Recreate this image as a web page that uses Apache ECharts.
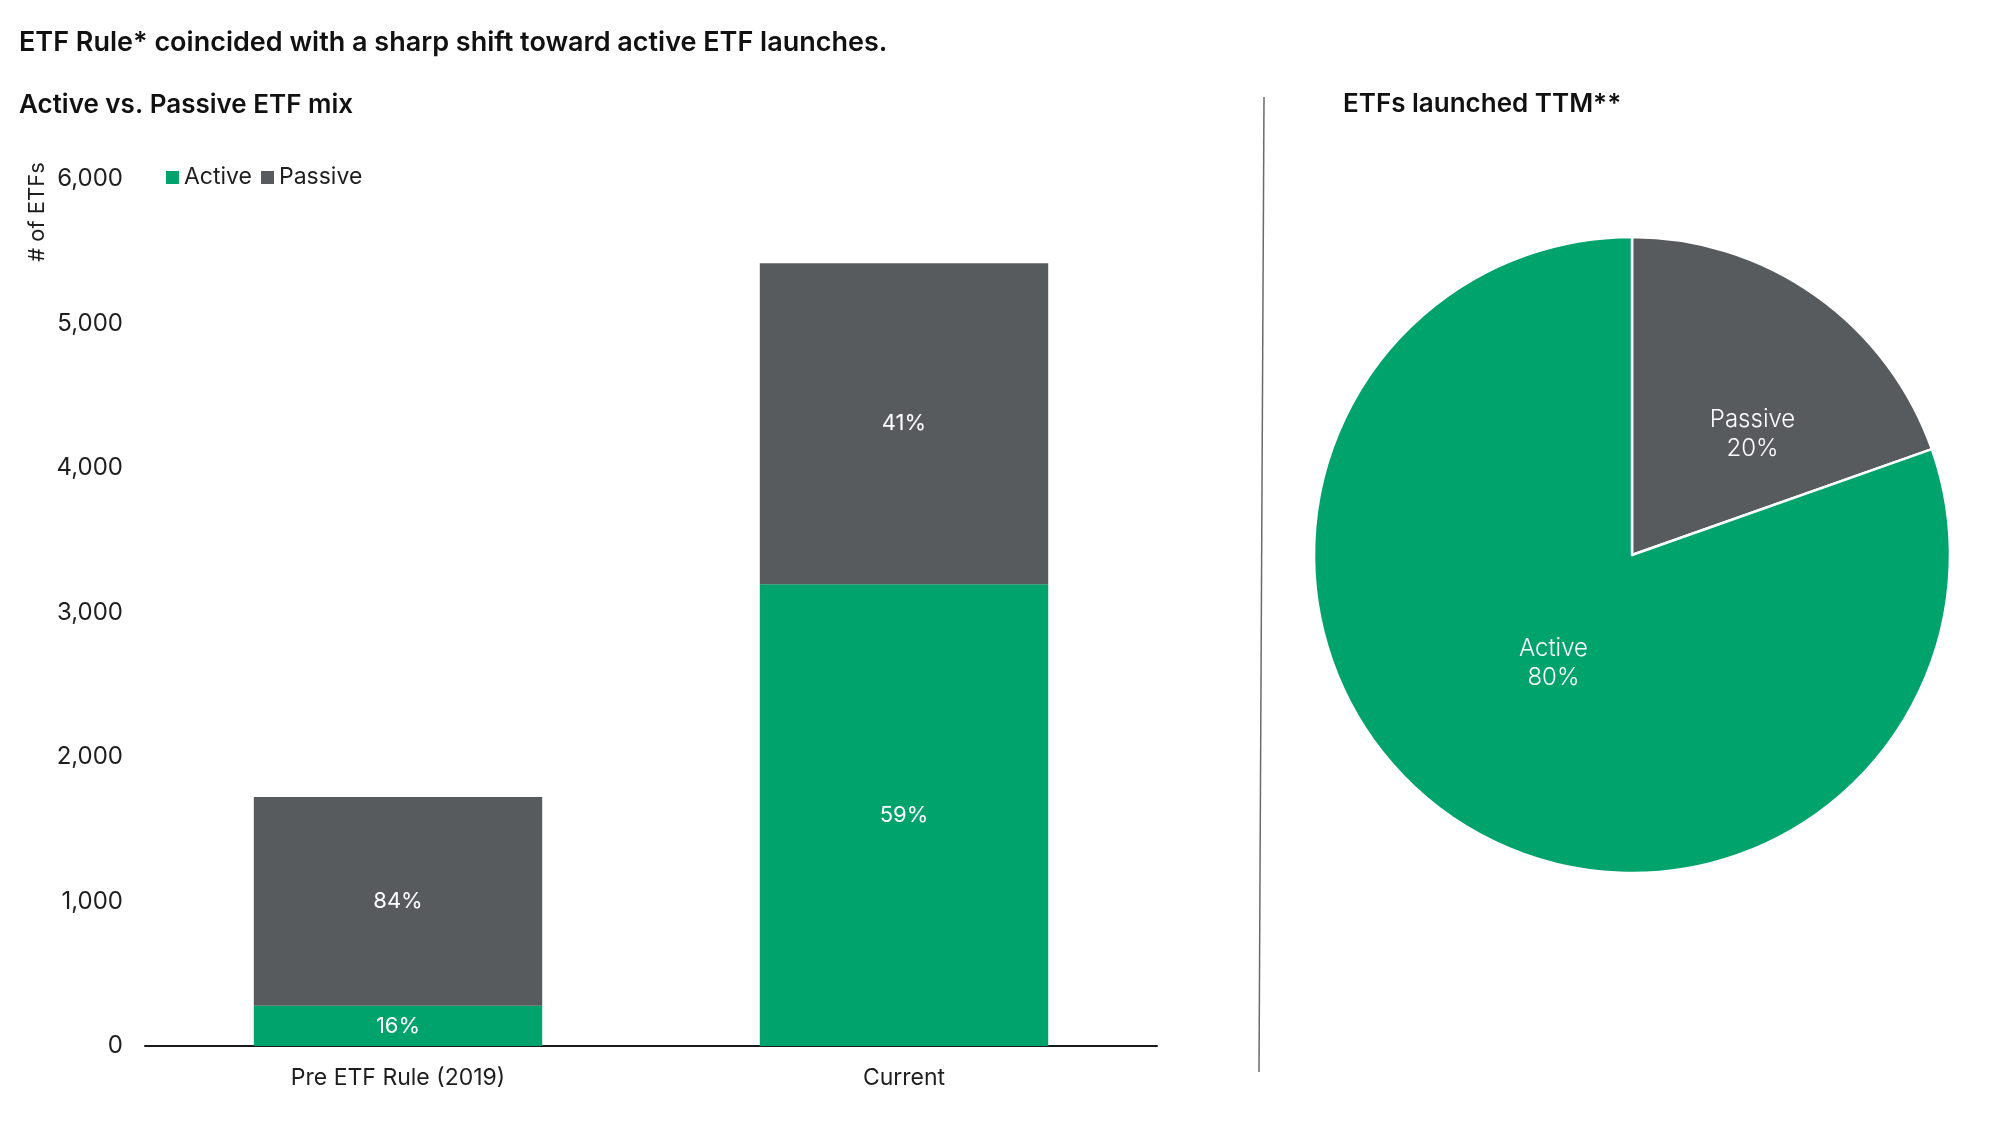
<!DOCTYPE html>
<html>
<head>
<meta charset="utf-8">
<title>Active vs. Passive ETF mix</title>
<script src="https://cdn.jsdelivr.net/npm/echarts@6/dist/echarts.min.js"></script>
<style>
  html, body { margin: 0; padding: 0; background: #fff; }
  #chart { width: 2000px; height: 1125px; }
</style>
</head>
<body>
<div id="chart"></div>
<script>
// --- data ---
var categories = ['Pre ETF Rule (2019)', 'Current'];
var activeCounts = [278, 3195];
var passiveCounts = [1445, 2222];
var activePct = ['16%', '59%'];
var passivePct = ['84%', '41%'];
var yTicks = { min: 0, max: 6000, interval: 1000 };

var pieNames = ['Passive', 'Active'];
var pieShares = [19.6, 80.4];
var pieLabels = ['20%', '80%'];

(function() {
  var green = '#00a36c';
  var grey = '#575b5e';
  var ink = '#1e1e1e';
  var font = 'Inter';

  var chart = echarts.init(document.getElementById('chart'), null, { renderer: 'canvas' });

  var pieColors = { Passive: grey, Active: green };
  var pieOffsets = { Passive: [27, 12], Active: [15, -24] };
  var pieData = pieNames.map(function(n, i) {
    return {
      name: n,
      value: pieShares[i],
      pct: pieLabels[i],
      itemStyle: { color: pieColors[n] },
      label: { offset: pieOffsets[n] }
    };
  });

  function headText(x, y, txt, size) {
    return {
      type: 'text', left: x, top: y,
      style: { text: txt, fill: '#111', font: '600 ' + size + 'px ' + font }
    };
  }

  chart.setOption({
    animation: false,
    textStyle: { fontFamily: font },
    legend: {
      data: ['Active', 'Passive'],
      left: 161,
      top: 161,
      itemWidth: 13,
      itemHeight: 13,
      itemGap: 9,
      icon: 'rect',
      textStyle: { color: ink, fontSize: 23, fontFamily: font }
    },
    grid: { left: 145, right: 843, top: 179, bottom: 79, containLabel: false },
    xAxis: {
      type: 'category',
      data: categories,
      axisLine: { lineStyle: { color: '#1a1a1a', width: 2 } },
      axisTick: { show: false },
      axisLabel: { color: ink, fontSize: 23, fontFamily: font, margin: 21 }
    },
    yAxis: {
      type: 'value',
      min: yTicks.min,
      max: yTicks.max,
      interval: yTicks.interval,
      axisLine: { show: false },
      axisTick: { show: false },
      splitLine: { show: false },
      axisLabel: {
        color: ink, fontSize: 24, fontFamily: font, margin: 22,
        formatter: function(v) { return v.toLocaleString('en-US'); }
      }
    },
    series: [
      {
        name: 'Active',
        type: 'bar',
        stack: 'mix',
        barWidth: '57%',
        data: activeCounts,
        itemStyle: { color: green },
        label: {
          show: true, position: 'inside', color: '#fff', fontSize: 22, fontFamily: font,
          formatter: function(p) { return activePct[p.dataIndex]; }
        }
      },
      {
        name: 'Passive',
        type: 'bar',
        stack: 'mix',
        barWidth: '57%',
        data: passiveCounts,
        itemStyle: { color: grey },
        label: {
          show: true, position: 'inside', color: '#fff', fontSize: 22, fontFamily: font,
          formatter: function(p) { return passivePct[p.dataIndex]; }
        }
      },
      {
        name: 'ETFs launched TTM',
        type: 'pie',
        center: [1632, 555],
        radius: 318,
        startAngle: 90,
        clockwise: true,
        data: pieData,
        itemStyle: { borderColor: '#fff', borderWidth: 2.5 },
        label: {
          show: true, position: 'inside', color: '#fff', fontSize: 24, fontFamily: font,
          fontWeight: 300, lineHeight: 29,
          formatter: function(p) { return p.name + '\n' + p.data.pct; }
        },
        labelLine: { show: false },
        emphasis: { disabled: true }
      }
    ],
    graphic: [
      headText(19, 29, 'ETF Rule* coincided with a sharp shift toward active ETF launches.', 27),
      headText(19, 92, 'Active vs. Passive ETF mix', 26),
      headText(1343, 91, 'ETFs launched TTM**', 26),
      {
        type: 'text',
        x: 37, y: 212,
        rotation: Math.PI / 2,
        style: {
          text: '# of ETFs', fill: ink, font: '22px ' + font,
          textAlign: 'center', textVerticalAlign: 'middle'
        }
      },
      {
        type: 'line',
        shape: { x1: 1264, y1: 97, x2: 1259, y2: 1072 },
        style: { stroke: '#6b6b6b', lineWidth: 1.5 }
      }
    ]
  });
  window.addEventListener('resize', function() { chart.resize(); });
})();
</script>
</body>
</html>
